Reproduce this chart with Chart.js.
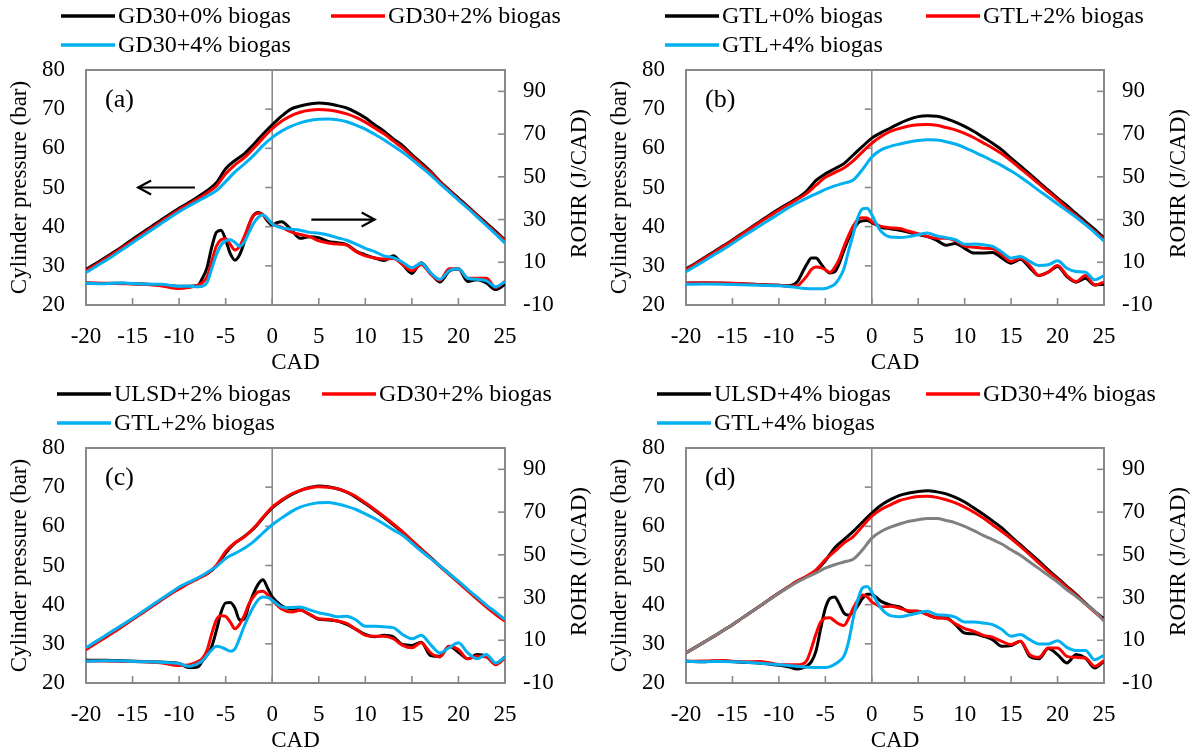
<!DOCTYPE html>
<html>
<head>
<meta charset="utf-8">
<title>Cylinder pressure and ROHR</title>
<script src="https://cdn.jsdelivr.net/npm/chart.js@4.4.1/dist/chart.umd.min.js"></script>
<style>
  html, body { margin: 0; padding: 0; background: #fff; font-family: "Liberation Serif", "Times New Roman", serif; }
  #wrap { position: relative; width: 1199px; height: 756px; }
  canvas { position: absolute; }
  #probe { position: absolute; left: -999px; top: 0; font-size: 23px; }
</style>
</head>
<body>
<div id="wrap">
  <canvas id="chartA" width="600" height="378" style="left:0;top:0"></canvas>
  <canvas id="chartB" width="599" height="378" style="left:600px;top:0"></canvas>
  <canvas id="chartC" width="600" height="378" style="left:0;top:378px"></canvas>
  <canvas id="chartD" width="599" height="378" style="left:600px;top:378px"></canvas>
</div>
<span id="probe">Cylinder pressure (bar)</span>
<script>
// crank angle grids: pressure every 1 CAD, ROHR finer around ignition
const cadP = [-20,-19,-18,-17,-16,-15,-14,-13,-12,-11,-10,-9,-8,-7,-6,-5,-4,-3,-2,-1,
  0,1,2,3,4,5,6,7,8,9,10,11,12,13,14,15,16,17,18,19,20,21,22,23,24,25];
const cadR = [-20,-18,-16,-14,-12,-10,-9,-8,
  -7.5,-7,-6.5,-6,-5.5,-5,-4.5,-4,-3.5,-3,-2.5,-2,-1.5,-1,-0.5,0,0.5,1,
  2,3,4,5,6,7,8,9,10,11,12,13,14,15,16,17,18,19,20,21,22,23,24,25];

const xTicks = [-20,-15,-10,-5,0,5,10,15,20,25];
const pTicks = [20,30,40,50,60,70,80];
const rohrTicks = [-10,10,30,50,70,90];

// (a) GD30
const labelsA = ['GD30+0% biogas','GD30+2% biogas','GD30+4% biogas'];
const pressA0 = [29.1,30.5,32,33.5,35.1,36.8,38.4,40,41.6,43.2, 44.7,46.1,47.6,49.2,51.2,54.8,56.9,58.6,61,63.6,
  66,68.2,70,70.8,71.3,71.6,71.4,70.9,70.3,69.2, 67.8,66,64.4,62.4,60.7,58.4,56.3,54.1,51.6,49.4, 47.3,45.2,43,40.9,38.8,36.6];
const pressA2 = [28.8,30.2,31.7,33.2,34.8,36.4,38,39.6,41.2,42.8, 44.3,45.7,47.1,48.6,50.4,53.5,55.8,57.6,60,62.6,
  65,66.9,68.3,69.2,69.7,69.9,69.8,69.4,68.8,67.9, 66.7,65.2,63.7,61.9,60.1,58,55.9,53.8,51.4,49.2, 47,44.9,42.8,40.6,38.5,36.4];
const pressA4 = [28.3,29.7,31.2,32.7,34.3,35.9,37.5,39.1,40.7,42.3, 43.8,45.2,46.5,47.8,49.2,51.5,54,56,58.2,60.7,
  62.8,64.4,65.6,66.5,67.1,67.4,67.5,67.3,66.8,65.9, 64.9,63.6,62.2,60.6,59,57.2,55.2,53.2,51,48.9, 46.8,44.7,42.5,40.3,38.1,35.8];
const rohrA0 = [0.3,0.1,0.2,-0.2,-0.6,-1.2,-1.2,-0.8,
  2.5,7.5,17,24,25,20.5,14,11,13.5,19.5,27.5,32,33.3,32.3,29.3,27.4,28.5,29,
  25.5,21.2,22,21.5,19.8,19.2,18.3,15.3,13.5,12,10.8,13,9,4.8,9.8,5,0.8,5.8,6.8,1,1.8,0.3,-2.8,-0.3];
const rohrA2 = [0.3,0.2,0,-0.3,-1,-2.3,-1.8,-0.8,
  0.5,3.2,10.5,17.5,20.5,21,18.3,15.7,17.5,22,27.5,32,33,32.3,30,28.2,27.2,26.4,
  24.2,23,22,20,19,18.5,18,15,13,12,11.5,11.8,9,6,9,4.5,1.5,7,7,2.5,2.5,2.5,-1.8,1];
const rohrA4 = [0.2,0,0.3,-0.2,-0.3,-1.3,-1.2,-1.4,
  -1.2,0.5,7,13.4,18,20,20.5,19.3,17.5,19.5,24,28.2,31,32.2,30.5,28,26.8,26.1,
  25.5,25,24,23.6,22.8,21.5,20.3,18.5,16.5,15,13,12.2,10,7.5,9.5,5,2,6,7,2.5,2,1.3,-1.5,1];

// (b) GTL
const labelsB = ['GTL+0% biogas','GTL+2% biogas','GTL+4% biogas'];
const pressB0 = [29.2,30.6,32.1,33.6,35.1,36.6,38.2,39.8,41.4,43, 44.5,45.9,47.3,49.1,51.8,53.5,54.8,56.1,58.3,60.5,
  62.6,64,65.2,66.4,67.4,68.1,68.3,68.2,67.6,66.7, 65.6,64.3,62.8,61.3,59.6,57.5,55.5,53.5,51.4,49.3, 47.3,45.4,43.3,41.3,39.3,37.1];
const pressB2 = [29,30.4,31.9,33.4,34.9,36.4,38,39.6,41.2,42.7, 44.2,45.6,47,48.5,50.6,52.6,53.8,55,56.8,59.1,
  61.3,63,64.3,65.1,65.7,66,66.1,65.9,65.3,64.7, 63.8,62.7,61.4,60.1,58.6,56.8,54.8,52.9,50.9,48.9, 46.9,44.8,42.8,40.8,38.8,36.8];
const pressB4 = [28.5,29.9,31.3,32.8,34.2,35.7,37.3,38.8,40.3,41.8, 43.3,44.8,46.1,47.3,48.4,49.5,50.4,51.1,51.9,54.6,
  57.8,59.6,60.5,61.1,61.6,62,62.2,62.1,61.7,61.1, 60.2,59.1,58,56.8,55.6,54.2,52.7,51,49.2,47.5, 45.8,44.1,42.4,40.5,38.5,36.3];
const rohrB0 = [0.2,0.3,0.2,0,-0.4,-0.8,-1,1,
  5,9,12,12,9.5,6.5,5,5.5,9.5,15.5,21,25,28.3,29.4,29.6,28.6,27.5,26.4,
  25.7,25,24,23,22,20.3,18,18.8,16.5,14.3,14.3,14.6,12,9.6,11.4,7.5,3.8,5.4,8,3.3,0.7,2.5,-0.6,-0.3];
const rohrB2 = [0.2,0.4,0.3,0,-0.5,-0.8,-1.2,-1,
  1,3.5,6.7,7.8,7.5,6.5,5.3,7.5,11.5,17.3,22.5,27,30,30.8,30.7,29,27.7,26.8,
  26.2,25.8,24.5,23.4,22.1,21.3,21.3,20.1,17.6,17,16.6,16.3,13.5,10.4,11.9,8.5,3.8,5.4,8.5,3.8,1,3.8,-0.6,0.7];
const rohrB4 = [-0.3,-0.2,-0.3,-0.5,-0.8,-1,-1.3,-1.8,
  -2.2,-2.3,-2.4,-2.4,-2.4,-2.3,-1.5,-0.3,2.5,7,15.3,23.1,31,35,35.3,32.3,28,24.5,
  21.8,21.6,22,22.9,23.7,22.3,21.5,20.6,18.4,18.5,18.2,17.4,14.8,12,12.7,10.4,8.5,8.8,10.7,7.2,5.7,5.4,1.8,3.8];

// (c) fuels with 2% biogas
const labelsC = ['ULSD+2% biogas','GD30+2% biogas','GTL+2% biogas'];
const pressC0 = [28.7,30.2,31.7,33.2,34.7,36.3,37.9,39.5,41.1,42.7, 44.2,45.5,46.7,47.9,49.8,53.2,55.7,57.4,59.4,62.1,
  64.7,66.5,68,69.1,69.9,70.3,70.1,69.6,68.7,67.4, 65.8,64.1,62.3,60.4,58.5,56.3,54.2,52.1,49.9,47.9, 45.8,43.7,41.6,39.6,37.8,36.1];
const pressC2 = [28.5,30,31.5,33,34.6,36.2,37.8,39.4,41,42.6, 44,45.4,46.6,47.9,50,53.6,55.8,57.3,59.5,62.3,
  64.9,66.7,68.2,69.2,69.8,70.1,70,69.6,68.8,67.6, 66,64.3,62.5,60.6,58.6,56.4,54.2,52,49.8,47.7, 45.6,43.5,41.4,39.4,37.5,35.8];
const pressC4 = [29,30.5,32,33.5,35,36.5,38.1,39.7,41.3,42.9, 44.5,45.7,46.8,48.2,49.7,51.8,53.1,54.4,56.1,58.3,
  60.4,62.1,63.7,64.9,65.6,66,66.1,65.7,65.1,64.3, 63.2,62,60.6,59.1,57.7,55.7,53.7,51.8,49.9,47.9, 46,43.9,41.9,39.9,38.1,36.2];
const rohrC0 = [0.7,0.6,0.4,0.1,-0.2,-0.8,-2.8,-2.5,
  0.3,3,7,14.5,23,27.5,27.7,25,19.5,20,26.5,32,36.3,38.3,34.5,30.3,28,26.2,
  24.6,24.3,22.1,19.8,19.5,19,17.4,15.1,12.7,11.6,12.3,11.6,8,7.6,9.1,2.9,2.5,7.2,4.4,1.3,3.3,2.5,-0.9,2.2];
const rohrC2 = [0.2,0.3,0.1,0,-0.5,-1.8,-1.6,0,
  1.5,5.3,13,19.5,21.5,21.2,18.5,15.4,17.5,21.5,27,30.5,32.7,33,31.3,28.7,26.5,24.6,
  23.2,24,22.1,20.1,19.8,19,17.9,15.1,12.3,11.9,11.9,10.7,7.6,6.5,8.8,4.1,2.2,7.2,5.7,1.3,2.5,2.2,-1.4,1.8];
const rohrC4 = [0.2,0.4,0.3,0,-0.3,-0.9,-2.2,-0.9,
  0.5,3,5.5,7.2,6.8,5.8,4.9,6,11,16.7,21.5,25.8,29,30.2,30,28.7,27,25.6,
  25.3,25.6,24.2,22.9,22.1,21,21.3,19.5,16.6,16.6,16.3,15.9,12.7,10.7,12.3,8,4.1,6.5,8.8,4.1,1.3,3.3,-0.6,2.2];

// (d) fuels with 4% biogas
const labelsD = ['ULSD+4% biogas','GD30+4% biogas','GTL+4% biogas'];
const pressD0 = [27.7,29.1,30.5,31.9,33.4,34.9,36.5,38.1,39.7,41.4, 43,44.5,46,47.2,48.7,51.2,54.5,56.6,58.7,61.1,
  63.4,65.4,66.8,67.9,68.5,68.9,69.1,68.8,68.3,67.4, 66.2,64.7,63.1,61.4,59.6,57.4,55.3,53.2,51.1,48.9, 46.8,44.7,42.6,40.4,38.3,36.4];
const pressD2 = [27.7,29.1,30.5,31.9,33.4,34.9,36.5,38.1,39.7,41.4, 43,44.5,46,47.3,48.9,51.5,53.6,55.7,57.4,60,
  62.6,64.3,65.5,66.6,67.2,67.6,67.7,67.4,66.8,66, 64.9,63.6,62.1,60.4,58.7,56.9,54.9,52.8,50.6,48.5, 46.5,44.4,42.4,40.2,38.1,36.1];
const pressD4 = [27.7,29.1,30.5,31.9,33.4,34.9,36.5,38.1,39.7,41.3, 42.9,44.4,45.8,47,48.1,49.3,50.2,50.9,51.6,54,
  57,58.7,59.8,60.6,61.3,61.7,62,62,61.5,60.9, 60,58.9,57.7,56.6,55.5,54,52.6,50.9,49.2,47.5, 45.8,43.8,42.1,40.2,38.3,35.8];
const rohrD0 = [0.2,0,0.3,-0.3,-0.7,-1.7,-2.4,-3.4,
  -3,-2,0,5,15.5,25,29.6,30.3,27,22.8,21.7,23.2,26.2,29.6,31.5,31.5,30,28.2,
  26.5,25.6,23.5,23.6,22,20.6,20.5,17.3,13.4,13,11.9,10.3,7.2,7.5,9.5,2.5,1.4,6.1,3.3,-0.6,3.3,1.7,-3,0.2];
const rohrD2 = [0.2,0.3,0.5,-0.1,0.1,-1.4,-1.5,-1.5,
  -1.2,0.5,6.2,13,18.5,20.4,20.6,19,17.6,16.9,20.2,25,28.8,31.2,30.4,28,26.7,25.6,
  25.9,25,23.8,23.6,22,20.5,20.2,17.7,15.5,14.2,12.3,11.4,9.5,8,9.5,3.3,2,6.4,6.4,2.5,2,1.7,-2.2,0.5];
const rohrD4 = [0.2,0,0.1,-0.2,-0.8,-1.5,-1.8,-2.2,
  -2.4,-2.6,-2.7,-2.8,-2.8,-2.8,-2.3,-1.3,0.2,2.6,9.3,20.2,29,34.5,35.2,32.5,28.4,25,
  21.5,21,21.8,22.8,23.6,22,21.7,20.8,18.6,18.6,18.1,17.3,15,11.9,12.7,10.3,8.3,8.3,9.8,6.7,5.2,5.2,0.9,3];

const BLACK = '#000000';
const RED = '#ff0000';
const BLUE = '#00b0f0';
const GREY = '#808080';
const AXIS = '#898989';
const FONT = "'Liberation Serif', 'Times New Roman', Times, serif";

const panels = [
  { id: 'chartA', tag: '(a)', labels: labelsA, press: [pressA0, pressA2, pressA4], rohr: [rohrA0, rohrA2, rohrA4],
    pressColors: [BLACK, RED, BLUE], slots: [[61, 16], [331, 16], [61, 45]], arrows: true },
  { id: 'chartB', tag: '(b)', labels: labelsB, press: [pressB0, pressB2, pressB4], rohr: [rohrB0, rohrB2, rohrB4],
    pressColors: [BLACK, RED, BLUE], slots: [[65, 16], [326, 16], [65, 45]] },
  { id: 'chartC', tag: '(c)', labels: labelsC, press: [pressC0, pressC2, pressC4], rohr: [rohrC0, rohrC2, rohrC4],
    pressColors: [BLACK, RED, BLUE], slots: [[57, 16], [322, 16], [57, 45]] },
  { id: 'chartD', tag: '(d)', labels: labelsD, press: [pressD0, pressD2, pressD4], rohr: [rohrD0, rohrD2, rohrD4],
    pressColors: [BLACK, RED, GREY], slots: [[57, 16], [326, 16], [57, 45]] }
];
const rohrColors = [BLACK, RED, BLUE];

function points(xs, ys) {
  return xs.map((x, i) => ({ x: x, y: ys[i] }));
}

function useTicks(list) {
  return axis => { axis.ticks = list.map(v => ({ value: v })); };
}

function seg(ctx, x1, y1, x2, y2) {
  ctx.beginPath();
  ctx.moveTo(x1, y1);
  ctx.lineTo(x2, y2);
  ctx.stroke();
}

// plot frame, zero-CAD line and the small tick marks
const framePlugin = {
  id: 'frame',
  beforeDatasetsDraw(chart) {
    const { ctx, chartArea: a, scales: { x, y, y2 } } = chart;
    ctx.save();
    ctx.strokeStyle = AXIS;
    ctx.lineWidth = 2;
    ctx.strokeRect(a.left, a.top, a.right - a.left, a.bottom - a.top);
    const x0 = x.getPixelForValue(0);
    ctx.lineWidth = 1.6;
    seg(ctx, x0, a.top, x0, a.bottom);
    x.ticks.forEach(t => {
      const px = x.getPixelForValue(t.value);
      seg(ctx, px, a.bottom, px, a.bottom - 7);
    });
    y.ticks.forEach(t => {
      const py = y.getPixelForValue(t.value);
      seg(ctx, x0 - 7, py, x0, py);
    });
    y2.ticks.forEach(t => {
      const py = y2.getPixelForValue(t.value);
      seg(ctx, a.right - 7, py, a.right, py);
    });
    ctx.restore();
  }
};

// two-column key above the plot, panel tag and the ROHR axis title
const keyPlugin = {
  id: 'key',
  afterDraw(chart, args, opts) {
    const { ctx, chartArea: a } = chart;
    const ds = chart.data.datasets;
    ctx.save();
    ctx.font = '24px ' + FONT;
    ctx.textBaseline = 'middle';
    ctx.textAlign = 'left';
    opts.slots.forEach((s, i) => {
      const d = ds[3 + i];
      ctx.strokeStyle = d.borderColor;
      ctx.lineWidth = 3.5;
      seg(ctx, s[0], s[1], s[0] + 54, s[1]);
      ctx.fillStyle = '#000';
      ctx.fillText(d.label, s[0] + 57, s[1] + 1);
    });
    ctx.font = '26px ' + FONT;
    ctx.fillText(opts.tag, 105, 100);

    ctx.font = '23px ' + FONT;
    ctx.textAlign = 'center';
    ctx.translate(chart.width - 20, (a.top + a.bottom) / 2 - 4);
    ctx.rotate(-Math.PI / 2);
    ctx.fillText(opts.rightTitle, 0, 0);
    ctx.restore();
  }
};

// direction arrows pointing at each curve family's axis
const arrowPlugin = {
  id: 'arrows',
  afterDatasetsDraw(chart, args, opts) {
    if (!opts.show) return;
    const { ctx, scales: { x, y, y2 } } = chart;
    const list = [
      { from: -8.3, to: -14.4, scale: y, v: 50 },
      { from: 4.2, to: 11, scale: y2, v: 30 }
    ];
    ctx.save();
    ctx.strokeStyle = '#000';
    ctx.lineWidth = 2.2;
    list.forEach(a => {
      const x1 = x.getPixelForValue(a.from);
      const x2 = x.getPixelForValue(a.to);
      const py = a.scale.getPixelForValue(a.v);
      const dir = x2 > x1 ? -1 : 1;
      seg(ctx, x1, py, x2, py);
      ctx.beginPath();
      ctx.moveTo(x2 + dir * 13, py - 7);
      ctx.lineTo(x2, py);
      ctx.lineTo(x2 + dir * 13, py + 7);
      ctx.stroke();
    });
    ctx.restore();
  }
};

function buildPanel(p) {
  const datasets = [];
  p.press.forEach((vals, i) => {
    datasets.push({
      label: p.labels[i],
      data: points(cadP, vals),
      yAxisID: 'y',
      borderColor: p.pressColors[i],
      borderWidth: 3,
      pointRadius: 0,
      cubicInterpolationMode: 'monotone',
      order: 3 - i
    });
  });
  p.rohr.forEach((vals, i) => {
    datasets.push({
      label: p.labels[i],
      data: points(cadR, vals),
      yAxisID: 'y2',
      borderColor: rohrColors[i],
      borderWidth: 3,
      pointRadius: 0,
      cubicInterpolationMode: 'monotone',
      order: 3 - i
    });
  });

  new Chart(document.getElementById(p.id), {
    type: 'line',
    data: { datasets: datasets },
    plugins: [framePlugin, keyPlugin, arrowPlugin],
    options: {
      responsive: false,
      animation: false,
      layout: { padding: { top: 70, left: 0, right: 0, bottom: 0 } },
      plugins: {
        legend: { display: false },
        tooltip: { enabled: false },
        key: { slots: p.slots, tag: p.tag, rightTitle: 'ROHR (J/CAD)' },
        arrows: { show: !!p.arrows }
      },
      scales: {
        x: {
          type: 'linear',
          min: -20,
          max: 25,
          afterBuildTicks: useTicks(xTicks),
          afterFit: s => { s.height = 73; },
          grid: { display: false, drawTicks: false },
          border: { display: false },
          ticks: { padding: 18, maxRotation: 0, autoSkip: false },
          title: { display: true, text: 'CAD', padding: { top: 0, bottom: 1 } }
        },
        y: {
          position: 'left',
          min: 20,
          max: 80,
          afterBuildTicks: useTicks(pTicks),
          afterFit: s => { s.width = 86; },
          grid: { display: false, drawTicks: false },
          border: { display: false },
          ticks: { padding: 21 },
          title: { display: true, text: 'Cylinder pressure (bar)', padding: { top: 6, bottom: 0 } }
        },
        y2: {
          position: 'right',
          min: -10,
          max: 100,
          afterBuildTicks: useTicks(rohrTicks),
          afterFit: s => { s.width = 95; },
          grid: { display: false, drawTicks: false },
          border: { display: false },
          ticks: { padding: 18 }
        }
      }
    }
  });
}

function drawAll() {
  Chart.defaults.font.family = FONT;
  Chart.defaults.font.size = 23;
  Chart.defaults.color = '#000';
  panels.forEach(buildPanel);
}

// make sure the serif face is ready before the canvases are painted
Promise.all([
  document.fonts.load("23px 'Liberation Serif'"),
  document.fonts.load("26px 'Liberation Serif'")
]).then(drawAll, drawAll);
</script>
</body>
</html>
